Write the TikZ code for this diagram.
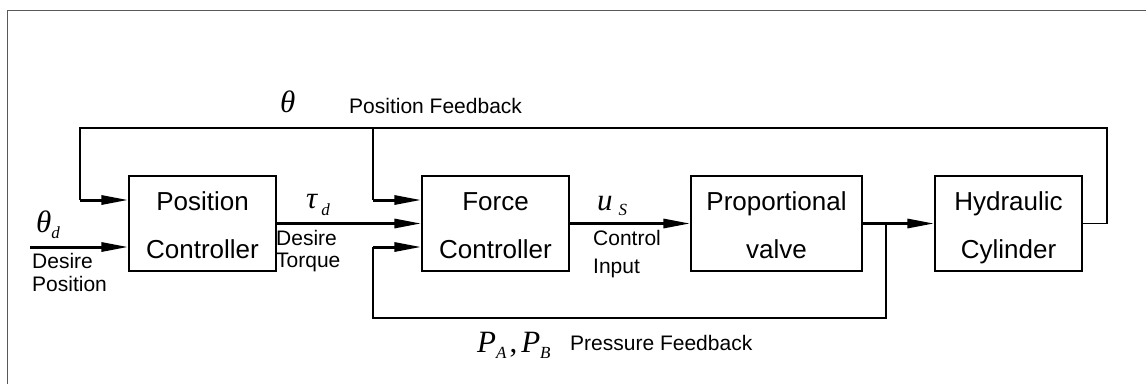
\documentclass[tikz,border=0pt]{standalone}
\usepackage{fontspec}
\setmainfont{Liberation Sans}
\newfontfamily\tms{Liberation Serif}
\usetikzlibrary{arrows.meta}
\tikzset{
  blk/.style={draw=black, line width=1.2pt, minimum width=147pt, minimum height=95pt, inner sep=0pt},
  blktxt/.style={anchor=base, inner sep=0pt, font=\fontsize{26}{26}\selectfont},
  lbl/.style={anchor=base west, inner sep=0pt, font=\fontsize{21}{21}\selectfont},
  mth/.style={anchor=base west, inner sep=0pt, font=\tms\itshape\fontsize{31}{31}\selectfont},
  thin/.style={line width=1.2pt},
  thk/.style={line width=3pt},
  arr/.style={thk, -{Triangle[length=27pt,width=9pt]}},
  frame/.style={draw=black!65, line width=1pt}
}
\newcommand{\subsc}[2]{\raisebox{-#1}{\fontsize{17}{17}\selectfont #2}}
\begin{document}
\begin{tikzpicture}[x=1pt,y=-1pt]
\useasboundingbox (0,0) rectangle (1146,384);
\fill[white] (0,0) rectangle (1146,384);
\draw[frame] (1146,10) -- (7,10) -- (7,384);

% blocks
\node[blk] (pc) at (202.5,223.5) {};
\node[blk] (fc) at (495.5,223.5) {};
\node[blk, minimum width=171pt] (pv) at (776.5,223.5) {};
\node[blk] (hc) at (1008.5,223.5) {};

\node[blktxt] (pct1) at (202.5,210) {Position};
\node[blktxt] (pct2) at (202.5,258) {Controller};
\node[blktxt] (fct1) at (495.5,210) {Force};
\node[blktxt] (fct2) at (495.5,258) {Controller};
\node[blktxt] (pvt1) at (776.5,210) {Proportional};
\node[blktxt] (pvt2) at (776.5,258) {valve};
\node[blktxt] (hct1) at (1008.5,210) {Hydraulic};
\node[blktxt] (hct2) at (1008.5,258) {Cylinder};

% junction coordinates
\coordinate (in) at (30,247);
\coordinate (tl) at (80,128);
\coordinate (tlb) at (80,200);
\coordinate (tm) at (373,128);
\coordinate (tmb) at (373,200);
\coordinate (tr) at (1107,128);
\coordinate (trb) at (1107,223.5);
\coordinate (pj) at (886,223.5);
\coordinate (pjb) at (886,318);
\coordinate (pl) at (373,318);
\coordinate (plt) at (373,247);

% input
\draw[arr] (in) -- (pc.west |- in);
% position feedback
\draw[thin] (hc.east) -- (trb) -- (tr) -- (tl) -- (tlb);
\draw[arr] (tlb) -- (pc.west |- tlb);
\draw[thin] (tm) -- (tmb);
\draw[arr] (tmb) -- (fc.west |- tmb);
% forward path
\draw[arr] (pc.east) -- (fc.west);
\draw[arr] (fc.east) -- (pv.west);
\draw[arr] (pv.east) -- (hc.west);
% pressure feedback
\draw[thin] (pj) -- (pjb) -- (pl) -- (plt);
\draw[arr] (plt) -- (fc.west |- plt);

% labels
\node[mth] (th) at (280,112) {θ};
\node[lbl] (pfb) at (349,113) {Position Feedback};
\node[mth] (thd) at (36,232) {θ\subsc{6pt}{d}};
\node[lbl] (dp1) at (32,268) {Desire};
\node[lbl] (dp2) at (32,291) {Position};
\node[mth] (taud) at (306,208) {τ\hspace{4pt}\subsc{7pt}{d}};
\node[lbl] (dt1) at (276,245) {Desire};
\node[lbl] (dt2) at (276,267) {Torque};
\node[mth] (us) at (597,210) {u\hspace{6pt}\subsc{5pt}{S}};
\node[lbl] (ci1) at (593,245) {Control};
\node[lbl] (ci2) at (593,273) {Input};
\node[mth] (pab) at (477,352) {P\subsc{6pt}{A}\hspace{3pt}{\upshape,}\hspace{4pt}P\subsc{6pt}{B}};
\node[lbl] (prf) at (570,350) {Pressure Feedback};
\end{tikzpicture}
\end{document}
